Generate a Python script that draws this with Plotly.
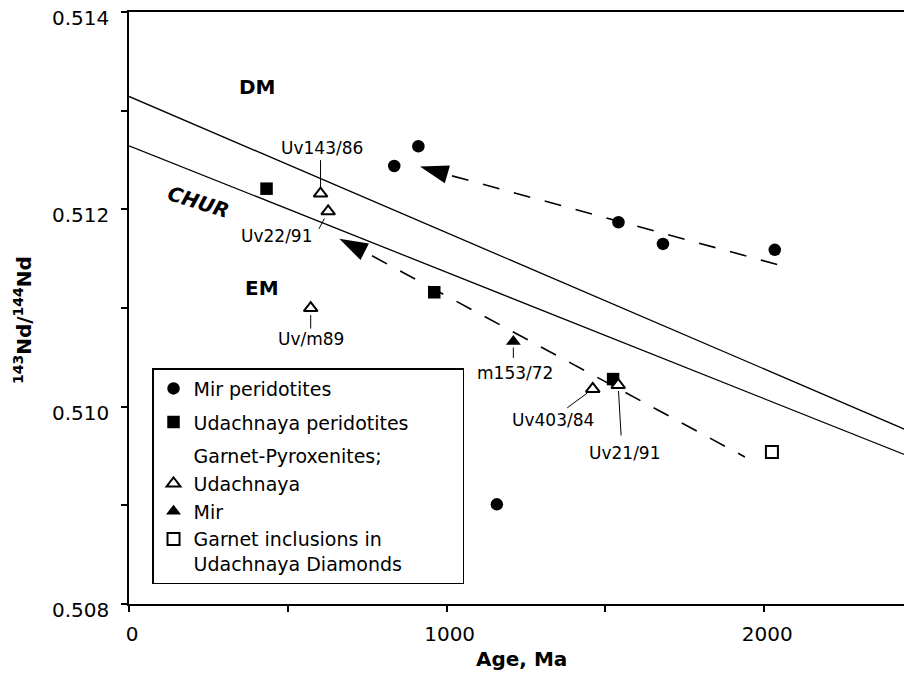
import plotly.graph_objects as go

# ---- data ----
mir_perid_age = [835, 911, 1541, 1681, 2033, 1158]
mir_perid_nd = [0.51244, 0.51264, 0.51187, 0.51165, 0.51159, 0.50901]

udach_perid_age = [433, 961, 1524]
udach_perid_nd = [0.51221, 0.51116, 0.51028]

gpx_udach_age = [603, 627, 572, 1460, 1540]
gpx_udach_nd = [0.51216, 0.51198, 0.51100, 0.51018, 0.51022]
gpx_udach_labels = ["Uv143/86", "Uv22/91", "Uv/m89", "Uv403/84", "Uv21/91"]

gpx_mir_age = [1210]
gpx_mir_nd = [0.51066]
gpx_mir_labels = ["m153/72"]

incl_age = [2024]
incl_nd = [0.50954]

# reference evolution lines
ref_age = [0, 2465]
dm_nd = [0.513145, 0.509740]
chur_nd = [0.512645, 0.509484]

# dashed trends with arrowheads
trend1_age = [1017, 2077]
trend1_nd = [0.51234, 0.51141]
trend2_age = [765, 1939]
trend2_nd = [0.51153, 0.50949]
arrow_age = [916, 662]
arrow_nd = [0.512435, 0.511702]

x_ticks = [0, 1000, 2000]
y_ticks = [0.508, 0.510, 0.512, 0.514]

FONT = "DejaVu Sans"
PAD = "\u00a0" * 8  # widens the legend box like the reference

fig = go.Figure()

# lines
for nd in (dm_nd, chur_nd):
    fig.add_trace(go.Scatter(x=ref_age, y=nd, mode="lines",
                             line=dict(color="black", width=1.3),
                             showlegend=False, hoverinfo="skip"))
for ages, nds in ((trend1_age, trend1_nd), (trend2_age, trend2_nd)):
    fig.add_trace(go.Scatter(x=ages, y=nds, mode="lines",
                             line=dict(color="black", width=1.6, dash="17px,15px"),
                             showlegend=False, hoverinfo="skip"))
fig.add_trace(go.Scatter(x=arrow_age, y=arrow_nd, mode="markers",
                         marker=dict(symbol="arrow", size=30, angle=[-74, -63],
                                     color="black", line=dict(width=0)),
                         showlegend=False, hoverinfo="skip"))

# data points
fig.add_trace(go.Scatter(x=mir_perid_age, y=mir_perid_nd, mode="markers",
                         name="Mir peridotites", legendgroup="a",
                         marker=dict(symbol="circle", size=12.5, color="black")))
fig.add_trace(go.Scatter(x=udach_perid_age, y=udach_perid_nd, mode="markers",
                         name="Udachnaya peridotites" + PAD, legendgroup="b",
                         marker=dict(symbol="square", size=12.5, color="black")))
fig.add_trace(go.Scatter(x=[None], y=[None], mode="markers",
                         name="Garnet-Pyroxenites;", legendgroup="c",
                         marker=dict(symbol="circle", size=1, opacity=0)))
fig.add_trace(go.Scatter(x=gpx_udach_age, y=gpx_udach_nd, mode="markers",
                         name="Udachnaya", legendgroup="c",
                         marker=dict(symbol="triangle-up", size=12, color="white",
                                     line=dict(color="black", width=2))))
fig.add_trace(go.Scatter(x=gpx_mir_age, y=gpx_mir_nd, mode="markers",
                         name="Mir", legendgroup="c",
                         marker=dict(symbol="triangle-up", size=13, color="black")))
fig.add_trace(go.Scatter(x=incl_age, y=incl_nd, mode="markers",
                         name="Garnet inclusions in<br>Udachnaya Diamonds", legendgroup="c",
                         marker=dict(symbol="square", size=12, color="white",
                                     line=dict(color="black", width=2))))

# sample labels: (text offset dx, dy), leader (ax, ay, standoff) in px
label_style = {
    "Uv143/86": (1, -46, 0, -35, 6),
    "Uv22/91": (-51, 25, -10, 19, 8),
    "Uv/m89": (0, 31, 0, 22, 7),
    "Uv403/84": (-40, 31, -27, 20, 7),
    "Uv21/91": (7, 68, 3, 52, 6),
    "m153/72": (2, 31, 0, 18, 6),
}
pts = list(zip(gpx_udach_age, gpx_udach_nd, gpx_udach_labels)) + \
      list(zip(gpx_mir_age, gpx_mir_nd, gpx_mir_labels))
for xa, yn, lab in pts:
    dx, dy, ax, ay, so = label_style[lab]
    fig.add_annotation(x=xa, y=yn, text=lab, showarrow=False,
                       xshift=dx, yshift=-dy,
                       font=dict(family=FONT, size=17, color="black"))
    fig.add_annotation(x=xa, y=yn, text="", showarrow=True, arrowhead=0,
                       arrowwidth=1, arrowcolor="black", ax=ax, ay=ay, standoff=so)

# region labels
fig.add_annotation(x=404, y=0.51324, text="<b>DM</b>", showarrow=False,
                   font=dict(family=FONT, size=20, color="black"))
fig.add_annotation(x=418, y=0.51120, text="<b>EM</b>", showarrow=False,
                   font=dict(family=FONT, size=20, color="black"))
fig.add_annotation(x=218, y=0.51208, text="<b><i>CHUR</i></b>", showarrow=False,
                   textangle=17.5,
                   font=dict(family=FONT, size=20, color="black"))

# the page body has an 8px default margin, so the figure is drawn 8px in from the corner
fig.update_layout(
    width=904, height=668,
    margin=dict(l=121, r=0, t=4, b=72),
    paper_bgcolor="white", plot_bgcolor="white",
    font=dict(family=FONT, size=20, color="black"),
    showlegend=True,
    legend=dict(x=0.0294, y=0.3986, xanchor="left", yanchor="top",
                bgcolor="white", bordercolor="black", borderwidth=1.5,
                font=dict(family=FONT, size=19, color="black"),
                tracegroupgap=6, valign="top", traceorder="grouped"),
    xaxis=dict(range=[0, 2465], tickvals=x_ticks, ticktext=[str(v) for v in x_ticks],
               ticks="outside", ticklen=6, tickwidth=1.5, tickcolor="black",
               minor=dict(dtick=500, tick0=0, ticks="outside", ticklen=6,
                          tickwidth=1.5, tickcolor="black"),
               showline=True, linewidth=1.5, linecolor="black", mirror=True,
               showgrid=False, zeroline=False, ticklabelstandoff=5,
               ticklabelshift=3, automargin=False, ticklabeloverflow="allow"),
    yaxis=dict(range=[0.508, 0.514001], tickvals=y_ticks,
               ticktext=["%.3f" % v for v in y_ticks],
               ticks="outside", ticklen=6, tickwidth=1.5, tickcolor="black",
               minor=dict(dtick=0.001, tick0=0.508, ticks="outside", ticklen=6,
                          tickwidth=1.5, tickcolor="black"),
               showline=True, linewidth=1.5, linecolor="black",
               showgrid=False, zeroline=False, ticklabelstandoff=8,
               ticklabelshift=6, automargin=False, ticklabeloverflow="allow"),
)

fig.add_annotation(x=0.5015, y=-0.0929, xref="paper", yref="paper",
                   xanchor="center", yanchor="middle",
                   text="<b>Age, Ma</b>", showarrow=False,
                   font=dict(family=FONT, size=20, color="black"))
fig.add_annotation(x=-0.1354, y=0.4797, xref="paper", yref="paper",
                   xanchor="center", yanchor="middle",
                   text="<b><sup>143</sup>Nd/<sup>144</sup>Nd</b>", textangle=-90,
                   showarrow=False, font=dict(family=FONT, size=20, color="black"))

fig.write_html("out.html")
